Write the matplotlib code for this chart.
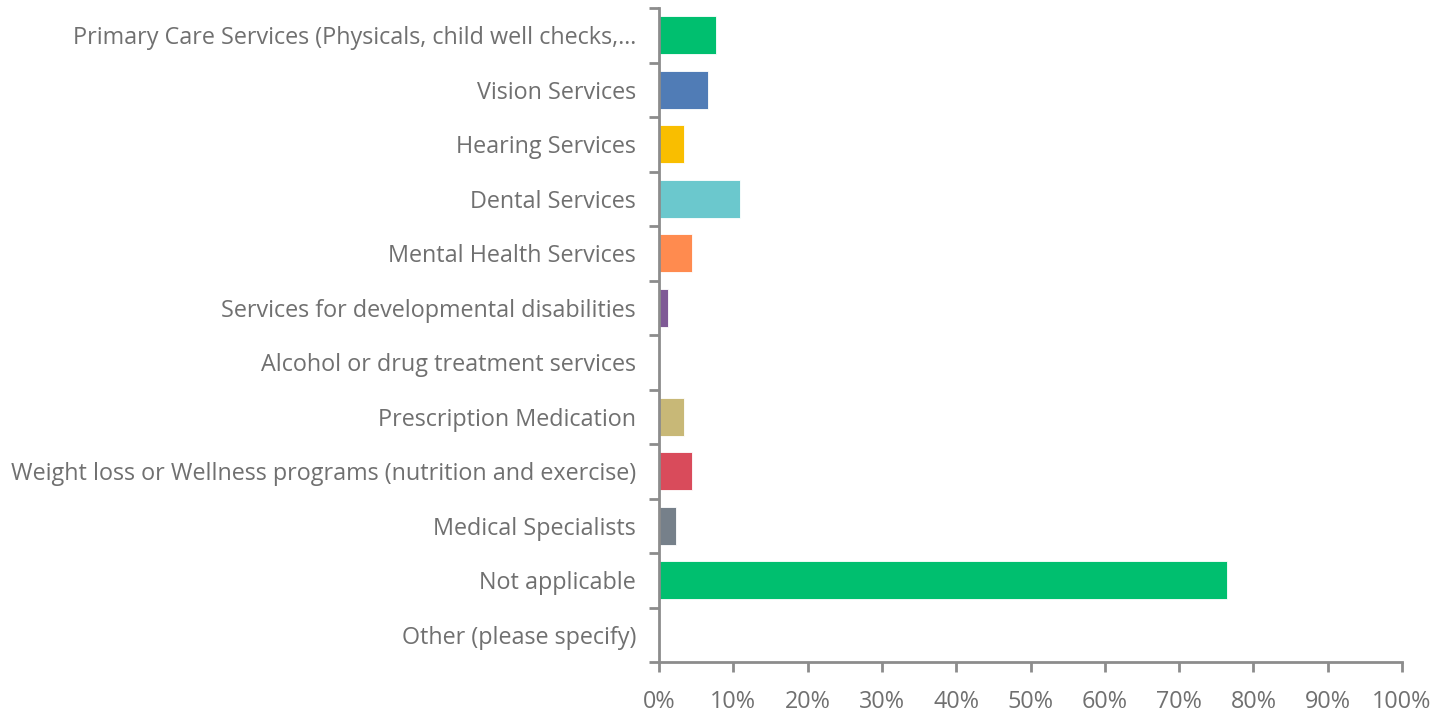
import numpy as np
import matplotlib.pyplot as plt
from matplotlib.ticker import FixedLocator, PercentFormatter

categories = [
    "Primary Care Services (Physicals, child well checks,\u2026",
    "Vision Services",
    "Hearing Services",
    "Dental Services",
    "Mental Health Services",
    "Services for developmental disabilities",
    "Alcohol or drug treatment services",
    "Prescription Medication",
    "Weight loss or Wellness programs (nutrition and exercise)",
    "Medical Specialists",
    "Not applicable",
    "Other (please specify)",
]
values = [7.7, 6.6, 3.4, 10.9, 4.4, 1.2, 0.0, 3.4, 4.4, 2.3, 76.4, 0.0]
colors = ["#00bf6f", "#507cb6", "#f9be00", "#6bc8cd", "#ff8b4f", "#7f5a96",
          "#5f6a72", "#c8b877", "#d94b5b", "#76808a", "#00bf6f", "#507cb6"]
x_ticks = np.arange(0, 101, 10)

plt.rcParams['font.family'] = ['Open Sans', 'DejaVu Sans']

fig = plt.figure(figsize=(14.49, 7.13), dpi=100)
ax = fig.add_axes([659 / 1449, 51 / 713, 743 / 1449, 654 / 713])

y = np.arange(len(categories))
ax.barh(y, values, height=0.7, color=colors, edgecolor="white", linewidth=0.6)

ax.set_xlim(0, 100)
ax.set_ylim(len(categories) - 0.5, -0.5)

grey = "#8c8c8c"
for side in ("top", "right"):
    ax.spines[side].set_visible(False)
for side in ("left", "bottom"):
    ax.spines[side].set_color(grey)
    ax.spines[side].set_linewidth(2)

# category ticks sit on the boundaries between bars
ax.yaxis.set_major_locator(FixedLocator(np.arange(len(categories) + 1) - 0.5))
ax.yaxis.set_major_formatter(plt.NullFormatter())
ax.yaxis.set_minor_locator(FixedLocator(y))
ax.set_yticklabels(categories, minor=True)
ax.tick_params(axis="y", which="major", length=7, width=2, color=grey)
ax.tick_params(axis="y", which="minor", length=0, pad=16.5,
               labelsize=16.8, labelcolor="#707070")

ax.set_xticks(x_ticks)
ax.xaxis.set_major_formatter(PercentFormatter(decimals=0))
ax.tick_params(axis="x", length=7, width=2, color=grey, pad=13,
               labelsize=16.8, labelcolor="#707070")

fig.savefig("out.png", dpi=100)
